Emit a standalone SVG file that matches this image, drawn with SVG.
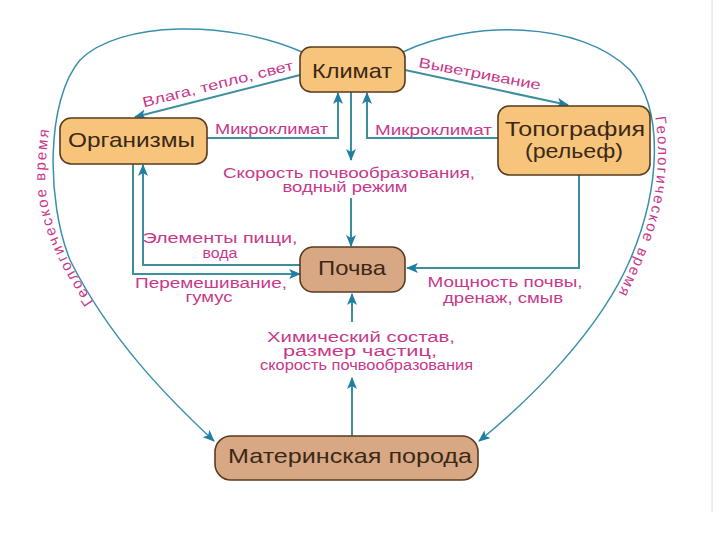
<svg xmlns="http://www.w3.org/2000/svg" width="720" height="540" viewBox="0 0 720 540">
<defs>
<style>
.node rect{stroke:#5a3b1e;stroke-width:1.6}
.warm{fill:#f7c47c}
.tan{fill:#d8a884}
.nt{font-family:"Liberation Sans",Arial,sans-serif;font-size:21px;fill:#3b2816;text-anchor:middle}
.lb{font-family:"Liberation Sans",Arial,sans-serif;font-size:14px;fill:#c8388a;text-anchor:middle}
.gt{font-family:"Liberation Sans",Arial,sans-serif;font-size:15px;fill:#c8388a;letter-spacing:1.9px}
.con path{fill:none;stroke:#3f8e9c;stroke-width:2}
.con path.arr{marker-end:url(#ah)}
.con path.geo{stroke:#3a8fab;stroke-width:1.5;marker-end:url(#ah)}
</style>
<marker id="ah" viewBox="0 0 12 10" refX="11" refY="5" markerWidth="12" markerHeight="10" markerUnits="userSpaceOnUse" orient="auto">
<path d="M0,0 L12,5 L0,10 L3,5 z" fill="#1f7ea6"/>
</marker>
<path id="tpL" d="M110,325 C70,270 40,220 46,160 C48,130 52,110 60,85"/>
<path id="tpR" d="M640,75 C662,110 662,170 650,215 C640,250 628,275 605,320"/>
</defs>
<rect width="720" height="540" fill="#ffffff"/>
<line x1="712" y1="0" x2="712" y2="512" stroke="#dcdcdc" stroke-width="1"/>

<g id="connectors" class="con">
<path class="arr" d="M300,75 L135,117"/>
<path class="arr" d="M405,70 L568,105"/>
<path class="arr" d="M207,138 H338 V93"/>
<path class="arr" d="M498,138 H367 V93"/>
<path class="arr" d="M351,92 V160"/>
<path class="arr" d="M351,198 V246"/>
<path class="arr" d="M300,265 H143 V165"/>
<path class="arr" d="M133,164 V274 H300"/>
<path class="arr" d="M579,175 V268 H407"/>
<path class="arr" d="M352,436 V378"/>
<path class="arr" d="M352,322 V294"/>
<path class="geo" d="M302,52 C230,20 120,20 80,60 C46,100 46,200 70,260 C110,340 170,400 214,441"/>
<path class="geo" d="M403,52 C470,20 580,20 630,70 C665,110 660,190 630,260 C600,330 530,400 479,441"/>
</g>

<g id="labels">
<text class="lb" x="219" y="88.5" textLength="155" lengthAdjust="spacingAndGlyphs" transform="rotate(-14 219 88.5)">Влага, тепло, свет</text>
<text class="lb" x="479" y="78.5" textLength="124" lengthAdjust="spacingAndGlyphs" transform="rotate(10.7 479 78.5)">Выветривание</text>
<text class="lb" x="271.5" y="134" textLength="113" lengthAdjust="spacingAndGlyphs">Микроклимат</text>
<text class="lb" x="433.5" y="135" textLength="117" lengthAdjust="spacingAndGlyphs">Микроклимат</text>
<text class="lb" x="349" y="178" textLength="252" lengthAdjust="spacingAndGlyphs">Скорость почвообразования,</text>
<text class="lb" x="345" y="192" textLength="125" lengthAdjust="spacingAndGlyphs">водный режим</text>
<text class="lb" x="220" y="243" textLength="155" lengthAdjust="spacingAndGlyphs">Элементы пищи,</text>
<text class="lb" x="220" y="258" textLength="35" lengthAdjust="spacingAndGlyphs">вода</text>
<text class="lb" x="211" y="288" textLength="152" lengthAdjust="spacingAndGlyphs">Перемешивание,</text>
<text class="lb" x="209" y="302" textLength="47" lengthAdjust="spacingAndGlyphs">гумус</text>
<text class="lb" x="505" y="287" textLength="155" lengthAdjust="spacingAndGlyphs">Мощность почвы,</text>
<text class="lb" x="503" y="303" textLength="120" lengthAdjust="spacingAndGlyphs">дренаж, смыв</text>
<text class="lb" x="361" y="342" textLength="188" lengthAdjust="spacingAndGlyphs">Химический состав,</text>
<text class="lb" x="360" y="356" textLength="154" lengthAdjust="spacingAndGlyphs">размер частиц,</text>
<text class="lb" x="366.5" y="370" textLength="213" lengthAdjust="spacingAndGlyphs">скорость почвообразования</text>
<text class="gt"><textPath href="#tpL" startOffset="28">Геологическое время</textPath></text>
<text class="gt"><textPath href="#tpR" startOffset="45">Геологическое время</textPath></text>
</g>

<g id="climate" class="node">
<rect class="warm" x="300" y="47" width="105" height="45" rx="11"/>
<text class="nt" x="352" y="78" textLength="80" lengthAdjust="spacingAndGlyphs">Климат</text>
</g>
<g id="organisms" class="node">
<rect class="warm" x="60" y="118" width="147" height="46" rx="11"/>
<text class="nt" x="131.5" y="147" textLength="127" lengthAdjust="spacingAndGlyphs">Организмы</text>
</g>
<g id="topography" class="node">
<rect class="warm" x="498" y="106" width="152" height="69" rx="11"/>
<text class="nt" x="575" y="136" textLength="140" lengthAdjust="spacingAndGlyphs">Топография</text>
<text class="nt" x="574" y="158" textLength="98" lengthAdjust="spacingAndGlyphs">(рельеф)</text>
</g>
<g id="soil" class="node">
<rect class="tan" x="300" y="247" width="105" height="45" rx="13"/>
<text class="nt" x="352" y="275" textLength="68" lengthAdjust="spacingAndGlyphs">Почва</text>
</g>
<g id="parent-rock" class="node">
<rect class="tan" x="215" y="436" width="263" height="44" rx="16"/>
<text class="nt" x="350" y="463" textLength="244" lengthAdjust="spacingAndGlyphs">Материнская порода</text>
</g>
</svg>
